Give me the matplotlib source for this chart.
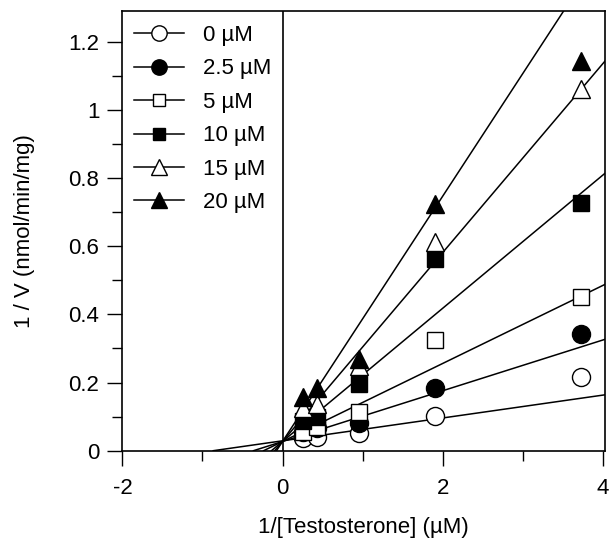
import numpy as np
import matplotlib
matplotlib.use("Agg")
import matplotlib.pyplot as plt
from matplotlib.ticker import MultipleLocator

plt.rcParams['font.family'] = ['Liberation Sans', 'DejaVu Sans']

# 1/[S] values and 1/V for each inhibitor concentration
inv_s = [0.26, 0.43, 0.95, 1.90, 3.73]
labels = ['0 µM', '2.5 µM', '5 µM', '10 µM', '15 µM', '20 µM']
inv_v = [
    [0.036, 0.041, 0.053, 0.102, 0.217],
    [0.056, 0.066, 0.080, 0.183, 0.342],
    [0.055, 0.070, 0.113, 0.325, 0.452],
    [0.088, 0.100, 0.196, 0.562, 0.726],
    [0.124, 0.137, 0.249, 0.611, 1.061],
    [0.158, 0.185, 0.268, 0.723, 1.144],
]
# fitted lines (slope, intercept)
fit_slope = [0.0335, 0.0744, 0.1144, 0.1953, 0.2770, 0.3596]
fit_intercept = [0.029, 0.027, 0.027, 0.027, 0.027, 0.027]

markers = ['o', 'o', 's', 's', '^', '^']
faces = ['white', 'black', 'white', 'black', 'white', 'black']
msizes = [13, 13, 11, 11, 13, 13]

fig = plt.figure(figsize=(6.15, 5.44), dpi=100)
ax = fig.add_axes([0.199, 0.1715, 0.785, 0.8085])

x_end = 4.1
for i in range(len(labels)):
    m, b = fit_slope[i], fit_intercept[i]
    x0 = -b / m
    xs = np.array([x0, x_end])
    ax.plot(xs, m * xs + b, color='black', lw=1.1, zorder=2)
    ax.plot(inv_s, inv_v[i], linestyle='none', marker=markers[i],
            markersize=msizes[i], markerfacecolor=faces[i],
            markeredgecolor='black', markeredgewidth=1.0, zorder=3)

# legend proxies
handles = []
for i in range(len(labels)):
    h, = ax.plot([], [], color='black', lw=1.1, marker=markers[i],
                 markersize=msizes[i] * 0.85, markerfacecolor=faces[i],
                 markeredgecolor='black', markeredgewidth=1.0)
    handles.append(h)
ax.legend(handles, labels, loc='upper left', bbox_to_anchor=(0.015, 0.978),
          frameon=False, fontsize=16, handlelength=2.25, handletextpad=0.85,
          labelspacing=0.56, borderpad=0.2, borderaxespad=0)

ax.axvline(0, color='black', lw=1.2, zorder=1)

ax.set_xlim(-2, 4.03)
ax.set_ylim(0, 1.29)
ax.xaxis.set_minor_locator(MultipleLocator(1))
ax.yaxis.set_minor_locator(MultipleLocator(0.1))
ax.set_yticks([0, 0.2, 0.4, 0.6, 0.8, 1.0, 1.2])
ax.set_yticklabels(['0', '0.2', '0.4', '0.6', '0.8', '1', '1.2'])
ax.set_xticks([-2, 0, 2, 4])
ax.set_xticklabels(['-2', '0', '2', '4'])

ax.tick_params(which='major', direction='out', length=10.5, width=1.0,
               labelsize=16, top=False, right=False)
ax.tick_params(axis='y', which='major', pad=6)
ax.tick_params(axis='x', which='major', pad=9)
ax.tick_params(which='minor', direction='out', length=7, width=1.0,
               top=False, right=False)
for s in ax.spines.values():
    s.set_linewidth(1.2)

ax.set_xlabel('1/[Testosterone] (µM)', fontsize=16, labelpad=13)
ax.set_ylabel('1 / V (nmol/min/mg)', fontsize=16, labelpad=24)

fig.savefig('out.png', dpi=100)
